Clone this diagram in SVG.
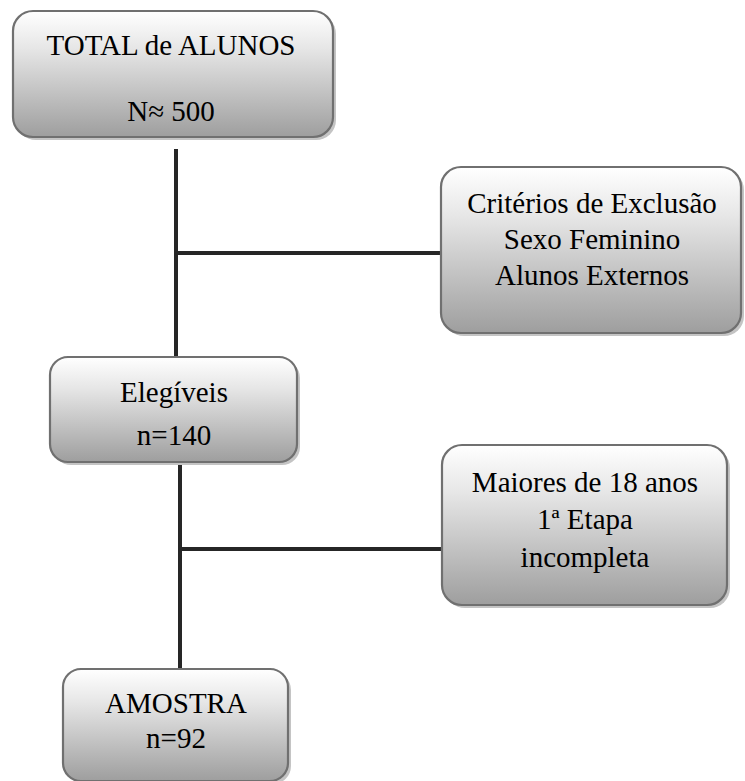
<svg xmlns="http://www.w3.org/2000/svg" width="745" height="781" viewBox="0 0 745 781">
<defs>
<linearGradient id="g" x1="0" y1="0" x2="0" y2="1">
<stop offset="0" stop-color="#ffffff"/>
<stop offset="0.3" stop-color="#e6e6e6"/>
<stop offset="1" stop-color="#9e9e9e"/>
</linearGradient>
</defs>
<style>
.box{fill:url(#g);stroke:#707070;stroke-width:2.2}
.sh{fill:#c4c4c4}
.t{font-size:29px;fill:#000;text-anchor:middle}
.c{stroke:#262626;stroke-width:4;fill:none}
</style>
<rect width="745" height="781" fill="#fff"/>
<g id="connectors">
<line class="c" x1="176" y1="149" x2="176" y2="357"/>
<line class="c" x1="176" y1="253" x2="442" y2="253"/>
<line class="c" x1="180" y1="462" x2="180" y2="669"/>
<line class="c" x1="180" y1="549" x2="443" y2="549"/>
</g>
<g font-family="Liberation Serif, Times New Roman, serif">
<g id="total">
<rect class="sh" x="16" y="14" width="320" height="126" rx="20"/>
<rect class="box" x="13" y="11" width="320" height="126" rx="20"/>
<text class="t" x="171" y="55">TOTAL de ALUNOS</text>
<text class="t" x="171" y="121">N≈ 500</text>
</g>
<g id="exclusao">
<rect class="sh" x="444" y="170" width="300" height="166" rx="20"/>
<rect class="box" x="441" y="167" width="300" height="166" rx="20"/>
<text class="t" x="592" y="213">Critérios de Exclusão</text>
<text class="t" x="592" y="249">Sexo Feminino</text>
<text class="t" x="592" y="285">Alunos Externos</text>
</g>
<g id="elegiveis">
<rect class="sh" x="53" y="360" width="247" height="105" rx="18"/>
<rect class="box" x="50" y="357" width="247" height="105" rx="18"/>
<text class="t" x="174" y="402">Elegíveis</text>
<text class="t" x="174" y="445">n=140</text>
</g>
<g id="maiores">
<rect class="sh" x="445" y="448" width="285" height="160" rx="20"/>
<rect class="box" x="442" y="445" width="285" height="160" rx="20"/>
<text class="t" x="585" y="492">Maiores de 18 anos</text>
<text class="t" x="585" y="529">1ª Etapa</text>
<text class="t" x="585" y="567">incompleta</text>
</g>
<g id="amostra">
<rect class="sh" x="66" y="672" width="225" height="112" rx="18"/>
<rect class="box" x="63" y="669" width="225" height="112" rx="18"/>
<text class="t" x="176" y="713">AMOSTRA</text>
<text class="t" x="176" y="748">n=92</text>
</g>
</g>
</svg>
